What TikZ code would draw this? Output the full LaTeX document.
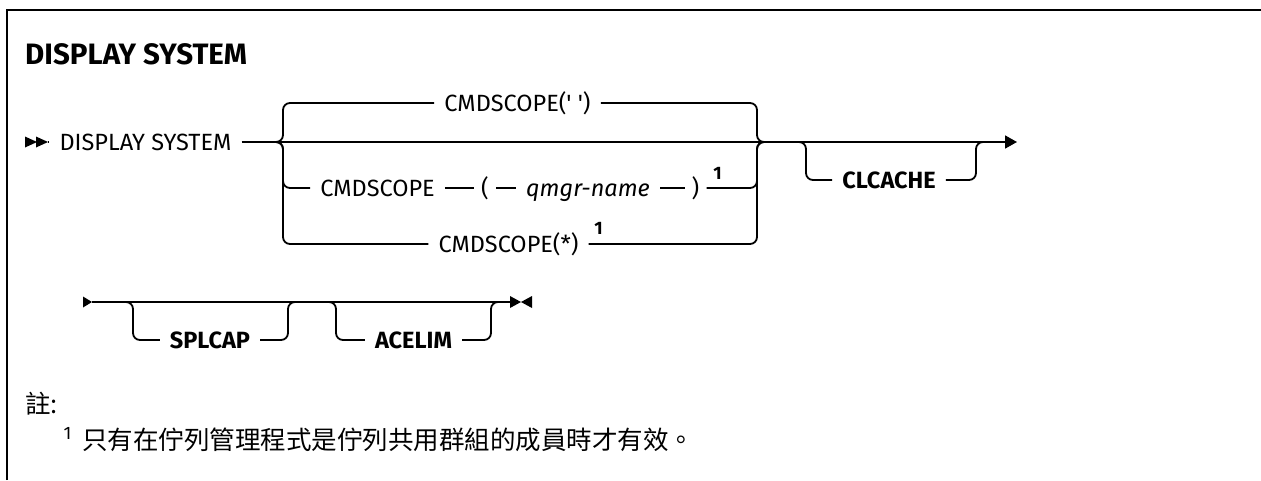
\documentclass[tikz,border=0pt]{standalone}
\usepackage{fontspec}
\setmainfont{Fira Sans}
\newfontfamily\railfont{Fira Sans}
\newfontfamily\cjkfont{Noto Sans CJK TC}
\usetikzlibrary{arrows.meta, positioning, calc}

\begin{document}
\begin{tikzpicture}[
  x=1pt, y=-1pt,
  rail/.style = {line width=1.8pt, rounded corners=7pt},
  kw/.style = {
    font=\railfont\fontsize{23.5}{28}\selectfont,
    inner xsep=10pt, inner ysep=0pt,
    text height=16pt, text depth=0pt
  },
  kwbold/.style = {kw, font=\railfont\bfseries\fontsize{23.5}{28}\selectfont},
  var/.style = {kw, font=\railfont\itshape\fontsize{23.5}{28}\selectfont},
  paren/.style = {kw, inner xsep=7pt},
  fnmark/.style = {font=\railfont\bfseries\fontsize{18}{20}\selectfont, inner sep=0pt},
  notetext/.style = {font=\cjkfont\fontsize{25.5}{30}\selectfont, inner sep=0pt, anchor=west}
]

\useasboundingbox (0,0) rectangle (1261,480);

% Rahmen
\draw[line width=2.2pt] (7,480) -- (7,10) -- (1261,10);

% Titel
\node[anchor=base west, inner sep=0pt,
  font=\railfont\bfseries\fontsize{29.5}{34}\selectfont] (title) at (25,64)
  {DISPLAY SYSTEM};

% Zeile 1
\coordinate (start1) at (48,142);
\fill (start1) -- ++(-12,-5.5) -- ++(0,11) -- cycle;
\fill ($(start1)+(-11,0)$) -- ++(-12,-5.5) -- ++(0,11) -- cycle;

\node[kw] (dispsys) at (145.5,142) {DISPLAY SYSTEM};
\draw[rail] (start1) -- (dispsys.west);

\coordinate (jl) at (276,142);
\coordinate (jr) at (764,142);
\coordinate (end1) at (1017,142);
\draw[rail] (dispsys.east) -- (jl) -- (jr);
\draw[line width=1.8pt, -{Triangle[length=12pt,width=13pt]}] (jr) -- (end1);

% CMDSCOPE Auswahl
\node[kw] (blank) at (517.5,103) {CMDSCOPE(' ')};
\node[kw] (scope) at (377.5,188) {CMDSCOPE};
\node[paren] (lpar) at (485,188) {(};
\node[var] (qmgr) at (588,188) {qmgr-name};
\node[paren] (rpar) at (695.5,188) {)};
\node[fnmark] (fnqmgr) at (717.5,173) {1};
\node[kw] (star) at (508.5,244) {CMDSCOPE(*)};
\node[fnmark] (fnstar) at (598.5,228) {1};

\draw[rail] (jl) -| ++(7,-39) -- (blank.west);
\draw[rail] (jl) -| ++(7,46) -- (scope.west);
\draw[rail] (jl) -| ++(7,102) -- (star.west);

\draw[rail] (scope) -- (lpar);
\draw[rail] (lpar) -- (qmgr);
\draw[rail] (qmgr) -- (rpar);

\draw[rail] (jr) -| ++(-7,-39) -- (blank.east);
\draw[rail] (jr) -| ++(-7,46) -- (rpar.east);
\draw[rail] (jr) -| ++(-7,102) -- (star.east);

% CLCACHE
\node[kwbold] (clcache) at (889,180) {CLCACHE};
\coordinate (cl1) at (799,142);
\coordinate (cl2) at (983,142);
\draw[rail] (cl1) -| ++(7,38) -- (clcache.west);
\draw[rail] (cl2) -| ++(-7,38) -- (clcache.east);

% Zeile 2
\coordinate (start2) at (92,302);
\coordinate (end2) at (510,302);
\fill (start2) -- ++(-9,-5.5) -- ++(0,11) -- cycle;
\draw[rail] (start2) -- (end2);
\fill (end2) ++(0,-6) -- ++(11,6) -- ++(-11,6) -- cycle;
\fill (end2) ++(22,-6) -- ++(-11,6) -- ++(11,6) -- cycle;

\node[kwbold] (splcap) at (210,340) {SPLCAP};
\coordinate (sp1) at (126,302);
\coordinate (sp2) at (295,302);
\draw[rail] (sp1) -| ++(7,38) -- (splcap.west);
\draw[rail] (sp2) -| ++(-7,38) -- (splcap.east);

\node[kwbold] (acelim) at (413.5,340) {ACELIM};
\coordinate (ac1) at (329,302);
\coordinate (ac2) at (498,302);
\draw[rail] (ac1) -| ++(7,38) -- (acelim.west);
\draw[rail] (ac2) -| ++(-7,38) -- (acelim.east);

% Anmerkungen
\node[notetext] (notes) at (25,404) {註:};
\node[fnmark, font=\railfont\fontsize{18}{20}\selectfont] (fnnum) at (67.5,433) {1};
\node[notetext] (fntext) at (82,440) {只有在佇列管理程式是佇列共用群組的成員時才有效。};

\end{tikzpicture}
\end{document}
